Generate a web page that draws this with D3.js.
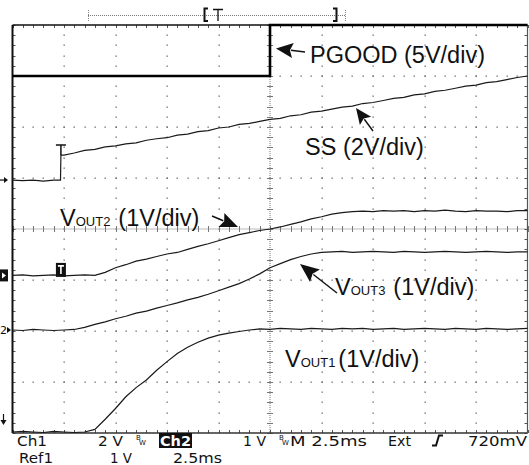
<!DOCTYPE html>
<html>
<head>
<meta charset="utf-8">
<script src="https://cdn.jsdelivr.net/npm/d3@7"></script>
<style>
  html, body { margin: 0; padding: 0; background: #fff; }
  svg { display: block; }
</style>
</head>
<body>
<svg id="chart" width="529" height="465"></svg>
<script>
// ---- data (time in ms, 2.5 ms/div; levels in screen divisions from bottom) ----
const timeMs = [0,0.5,1,1.5,2,2.5,3,3.5,4,4.5,5,5.5,6,6.5,7,7.5,8,8.5,9,9.5,10,10.5,11,11.5,12,12.5,
  13,13.5,14,14.5,15,15.5,16,16.5,17,17.5,18,18.5,19,19.5,20,20.5,21,21.5,22,22.5,23,23.5,24,24.5,25];

const vout2Div = [3.09,3.10,3.08,3.09,3.10,3.08,3.09,3.10,3.09,3.15,3.24,3.30,3.37,3.41,3.46,3.51,3.54,3.60,
  3.66,3.71,3.77,3.83,3.89,3.93,3.97,4.00,4.04,4.09,4.14,4.20,4.24,4.29,4.32,4.34,4.35,4.34,4.36,4.35,4.36,
  4.34,4.36,4.35,4.37,4.35,4.34,4.36,4.35,4.35,4.34,4.36,4.36];

const vout3Div = [2.02,2.01,2.03,2.02,2.01,2.02,2.03,2.07,2.13,2.18,2.24,2.29,2.35,2.39,2.45,2.50,2.55,2.61,
  2.66,2.72,2.79,2.86,2.93,3.02,3.12,3.24,3.32,3.40,3.46,3.51,3.54,3.55,3.56,3.54,3.55,3.56,3.55,3.54,3.56,
  3.55,3.54,3.55,3.56,3.55,3.54,3.55,3.56,3.55,3.54,3.55,3.55];

const vout1Div = [0.02,0.03,0.02,0.01,0.03,0.02,0.01,0.02,0.07,0.27,0.48,0.71,0.89,1.04,1.23,1.40,1.56,1.68,
  1.78,1.86,1.92,1.96,1.99,2.02,2.04,2.03,2.05,2.04,2.03,2.05,2.04,2.03,2.05,2.04,2.05,2.03,2.04,2.05,2.03,
  2.04,2.05,2.04,2.03,2.05,2.04,2.03,2.05,2.04,2.03,2.04,2.05];

const ssTime = [0,0.5,1,1.5,2,2.33,2.35,2.5,3,3.5,4,4.5,5,5.5,6,6.5,7,7.5,8,8.5,9,9.5,10,10.5,11,11.5,12,12.5,
  13,13.5,14,14.5,15,15.5,16,16.5,17,17.5,18,18.5,19,19.5,20,20.5,21,21.5,22,22.5,23,23.5,24,24.5,25];
const ssDiv = [4.96,4.95,4.96,4.94,4.96,4.96,5.45,5.45,5.49,5.54,5.56,5.61,5.63,5.67,5.69,5.74,5.77,5.79,5.84,
  5.86,5.91,5.93,5.98,6.00,6.05,6.07,6.11,6.15,6.17,6.22,6.24,6.29,6.31,6.35,6.39,6.41,6.46,6.48,6.52,6.56,
  6.58,6.63,6.65,6.70,6.72,6.76,6.80,6.82,6.87,6.89,6.93,6.97,7.00];

const pgoodTime = [0, 12.5, 12.5, 25];
const pgoodDiv = [7, 7, 8, 8];

const bottomRow1 = ["Ch1", "2 V", "1 V", "M 2.5ms", "Ext", "720mV"];
const bottomRow2 = ["Ref1", "1 V", "2.5ms"];

// ---- layout ----
const svg = d3.select("#chart");
const X0 = 12.5, X1 = 527.5, Y0 = 25, Y1 = 433;
const x = d3.scaleLinear().domain([0, 25]).range([X0, X1]);
const y = d3.scaleLinear().domain([0, 8]).range([Y1, Y0]);

const majorX = d3.range(0, 25.001, 2.5);
const minorX = d3.range(0, 25.001, 0.5);
const majorY = d3.range(0, 8.001, 1);
const minorY = d3.range(0, 8.001, 0.2);

const grid = svg.append("g");
const dotColor = "#666";

// dotted major grid lines (dots at minor positions)
majorX.filter(v => v > 0 && v < 25 && v !== 12.5).forEach(v => {
  grid.selectAll(null).data(minorY.filter(t => t > 0 && t < 8)).enter().append("rect")
    .attr("x", Math.round(x(v)) - 0.5).attr("y", d => Math.round(y(d)) - 0.5)
    .attr("width", 1.3).attr("height", 1.3).attr("fill", dotColor);
});
majorY.filter(v => v > 0 && v < 8 && v !== 4).forEach(v => {
  grid.selectAll(null).data(minorX.filter(t => t > 0 && t < 25)).enter().append("rect")
    .attr("x", d => Math.round(x(d)) - 0.5).attr("y", Math.round(y(v)) - 0.5)
    .attr("width", 1.3).attr("height", 1.3).attr("fill", dotColor);
});

// center lines
grid.append("line").attr("x1", x(12.5)).attr("x2", x(12.5)).attr("y1", Y0).attr("y2", Y1)
  .attr("stroke", "#777").attr("stroke-width", 1).attr("stroke-dasharray", "1,1");
grid.append("line").attr("x1", X0).attr("x2", X1).attr("y1", y(4)).attr("y2", y(4))
  .attr("stroke", "#777").attr("stroke-width", 1).attr("stroke-dasharray", "1,1");
grid.selectAll(null).data(minorY).enter().append("line")
  .attr("x1", x(12.5) - 3).attr("x2", x(12.5) + 3)
  .attr("y1", d => Math.round(y(d)) + 0.5).attr("y2", d => Math.round(y(d)) + 0.5)
  .attr("stroke", "#777").attr("stroke-width", 1);
grid.selectAll(null).data(minorX).enter().append("line")
  .attr("y1", y(4) - 3).attr("y2", y(4) + 3)
  .attr("x1", d => Math.round(x(d)) + 0.5).attr("x2", d => Math.round(x(d)) + 0.5)
  .attr("stroke", "#777").attr("stroke-width", 1);

// border ticks
const tickLen = 3;
grid.selectAll(null).data(minorX).enter().append("line")
  .attr("x1", d => Math.round(x(d)) + 0.5).attr("x2", d => Math.round(x(d)) + 0.5)
  .attr("y1", Y0).attr("y2", Y0 + tickLen).attr("stroke", "#555");
grid.selectAll(null).data(minorX).enter().append("line")
  .attr("x1", d => Math.round(x(d)) + 0.5).attr("x2", d => Math.round(x(d)) + 0.5)
  .attr("y1", Y1).attr("y2", Y1 - tickLen).attr("stroke", "#555");
grid.selectAll(null).data(minorY).enter().append("line")
  .attr("y1", d => Math.round(y(d)) + 0.5).attr("y2", d => Math.round(y(d)) + 0.5)
  .attr("x1", X0).attr("x2", X0 + tickLen).attr("stroke", "#555");
grid.selectAll(null).data(minorY).enter().append("line")
  .attr("y1", d => Math.round(y(d)) + 0.5).attr("y2", d => Math.round(y(d)) + 0.5)
  .attr("x1", X1).attr("x2", X1 - tickLen).attr("stroke", "#555");

// border
grid.append("line").attr("x1", X0).attr("x2", X0).attr("y1", Y0).attr("y2", Y1).attr("stroke", "#111").attr("stroke-width", 2);
grid.append("line").attr("x1", X0).attr("x2", X1).attr("y1", Y1).attr("y2", Y1).attr("stroke", "#333").attr("stroke-width", 1.5);
grid.append("line").attr("x1", X1).attr("x2", X1).attr("y1", Y0).attr("y2", Y1).attr("stroke", "#555").attr("stroke-width", 1.2);
grid.append("line").attr("x1", X0).attr("x2", X1).attr("y1", Y0).attr("y2", Y0).attr("stroke", "#111").attr("stroke-width", 1.5);

// ---- traces ----
const line = d3.line().x(d => x(d[0])).y(d => y(d[1]));
const traces = svg.append("g").attr("fill", "none");
const zip = (a, b) => a.map((t, i) => [t, b[i]]);

traces.append("path").datum(zip(timeMs, vout1Div)).attr("d", line).attr("stroke", "#1a1a1a").attr("stroke-width", 1.2);
traces.append("path").datum(zip(timeMs, vout3Div)).attr("d", line).attr("stroke", "#1a1a1a").attr("stroke-width", 1.2);
traces.append("path").datum(zip(timeMs, vout2Div)).attr("d", line).attr("stroke", "#1a1a1a").attr("stroke-width", 1.2);
traces.append("path").datum(zip(ssTime, ssDiv)).attr("d", line).attr("stroke", "#1a1a1a").attr("stroke-width", 1.2);
traces.append("path").datum(zip(pgoodTime, pgoodDiv)).attr("d", line).attr("stroke", "#000").attr("stroke-width", 2.6);

// trigger marker on SS (I-beam)
const trigX = x(ssTime[6]);
svg.append("path").attr("d", `M${trigX - 5},${y(ssDiv[6]) - 10} H${trigX + 5} M${trigX},${y(ssDiv[6]) - 10} V${y(ssDiv[6])}`)
  .attr("stroke", "#111").attr("stroke-width", 1.5).attr("fill", "none");

// trigger "T" box on VOUT2
svg.append("rect").attr("x", trigX - 5).attr("y", y(vout2Div[4]) - 12).attr("width", 10).attr("height", 14).attr("fill", "#111");
svg.append("path").attr("d", `M${trigX - 3},${y(vout2Div[4]) - 9} H${trigX + 3} M${trigX},${y(vout2Div[4]) - 9} V${y(vout2Div[4]) - 1}`)
  .attr("stroke", "#fff").attr("stroke-width", 1.6);

// ---- left channel markers ----
const lm = svg.append("g");
lm.append("path").attr("d", `M0,${y(ssDiv[0])} H5`).attr("stroke", "#111").attr("stroke-width", 1.2);
lm.append("path").attr("d", `M4,${y(ssDiv[0]) - 3} L8,${y(ssDiv[0])} L4,${y(ssDiv[0]) + 3} Z`).attr("fill", "#111");
lm.append("rect").attr("x", 0).attr("y", y(vout2Div[0]) - 6).attr("width", 8).attr("height", 12).attr("fill", "#111");
lm.append("path").attr("d", `M2,${y(vout2Div[0]) - 3} L6,${y(vout2Div[0])} L2,${y(vout2Div[0]) + 3} Z`).attr("fill", "#fff");
lm.append("text").attr("x", 0).attr("y", y(vout3Div[0]) + 4).attr("font-family", "DejaVu Sans").attr("font-size", 11).attr("fill", "#111").text("2");
lm.append("path").attr("d", `M7,${y(vout3Div[0]) - 3} L11,${y(vout3Div[0])} L7,${y(vout3Div[0]) + 3} Z`).attr("fill", "#111");
lm.append("path").attr("d", `M3.5,414 V422`).attr("stroke", "#111").attr("stroke-width", 1.2);
lm.append("path").attr("d", `M0.5,420 L3.5,425 L6.5,420 Z`).attr("fill", "#111");

// ---- top record bar ----
const tb = svg.append("g");
tb.append("line").attr("x1", 88).attr("x2", 346).attr("y1", 15.5).attr("y2", 15.5).attr("stroke", "#777").attr("stroke-dasharray", "1,1");
tb.append("path").attr("d", "M88.5,10 V21 M345.5,10 V21").attr("stroke", "#888").attr("stroke-width", 1).attr("stroke-dasharray", "1,1");
tb.append("path").attr("d", "M208,8.5 H204.5 V21 H208").attr("stroke", "#111").attr("stroke-width", 2).attr("fill", "none");
tb.append("path").attr("d", "M213,9.5 H223 M218,9.5 V21").attr("stroke", "#111").attr("stroke-width", 1.3).attr("fill", "none");
tb.append("path").attr("d", "M333,8.5 H336.5 V21 H333").attr("stroke", "#111").attr("stroke-width", 2).attr("fill", "none");

// ---- annotations ----
const ann = svg.append("g").attr("font-family", "Liberation Sans, Arial, sans-serif").attr("fill", "#111");
ann.append("text").attr("x", 310).attr("y", 63).attr("font-size", 23.5).text("PGOOD (5V/div)");
ann.append("text").attr("x", 305).attr("y", 155).attr("font-size", 23.5).text("SS (2V/div)");

function vlabel(xp, yp, sub, gap) {
  const t = ann.append("text").attr("x", xp).attr("y", yp).attr("font-size", 23.5);
  t.append("tspan").text("V");
  t.append("tspan").attr("font-size", 13).text("OUT" + sub);
  t.append("tspan").attr("dx", gap).text("(1V/div)");
}
vlabel(60, 226, "2", 8);
vlabel(335, 295, "3", 8);
vlabel(285, 367, "1", 3);

function arrow(tx, ty, hx, hy, hl, hw) {
  const dx = hx - tx, dy = hy - ty, L = Math.hypot(dx, dy);
  const ux = dx / L, uy = dy / L, px = -uy, py = ux;
  const bx = hx - ux * hl, by = hy - uy * hl;
  ann.append("line").attr("x1", tx).attr("y1", ty).attr("x2", bx + ux * 2).attr("y2", by + uy * 2)
    .attr("stroke", "#111").attr("stroke-width", 1.4);
  ann.append("path").attr("d",
    `M${hx},${hy} L${bx + px * hw / 2},${by + py * hw / 2} L${bx + ux * 3},${by + uy * 3} L${bx - px * hw / 2},${by - py * hw / 2} Z`)
    .attr("fill", "#111");
}
arrow(305, 52, 276, 48.5, 17, 15);
arrow(373, 131, 356, 108, 16, 14);
arrow(212, 216, 238, 227, 18, 15);
arrow(337, 293, 300, 264, 19, 16);

// ---- bottom status text ----
const bt = svg.append("g").attr("font-family", "DejaVu Sans, sans-serif").attr("font-size", 14.5).attr("fill", "#111");
const row1Y = 446, row2Y = 463;
const row1X = [17, 98, 243, 290, 388, 468];
const row1W = [30, 25, 23, 77, 23, 59];
bottomRow1.forEach((s, i) => {
  bt.append("text").attr("x", row1X[i]).attr("y", row1Y).attr("textLength", row1W[i]).attr("lengthAdjust", "spacingAndGlyphs").text(s);
});
const row2X = [19, 110, 173];
const row2W = [34, 22, 49];
bottomRow2.forEach((s, i) => {
  bt.append("text").attr("x", row2X[i]).attr("y", row2Y).attr("textLength", row2W[i]).attr("lengthAdjust", "spacingAndGlyphs").text(s);
});
bt.append("rect").attr("x", 159).attr("y", 433).attr("width", 33).attr("height", 15).attr("fill", "#111");
bt.append("text").attr("x", 160).attr("y", row1Y).attr("fill", "#fff").attr("font-weight", "bold")
  .attr("textLength", 31).attr("lengthAdjust", "spacingAndGlyphs").text("Ch2");
// bandwidth-limit glyphs (B with subscript W, one text)
[136, 279].forEach(bx => {
  const t = bt.append("text").attr("x", bx).attr("y", 440).attr("font-size", 7);
  t.append("tspan").text("B");
  t.append("tspan").attr("dx", -1.5).attr("dy", 5).text("W");
});
// trigger slope symbol
bt.append("path").attr("d", "M432,445.5 H436 L439,435.5 H443").attr("stroke", "#111").attr("stroke-width", 2).attr("fill", "none");
</script>
</body>
</html>
